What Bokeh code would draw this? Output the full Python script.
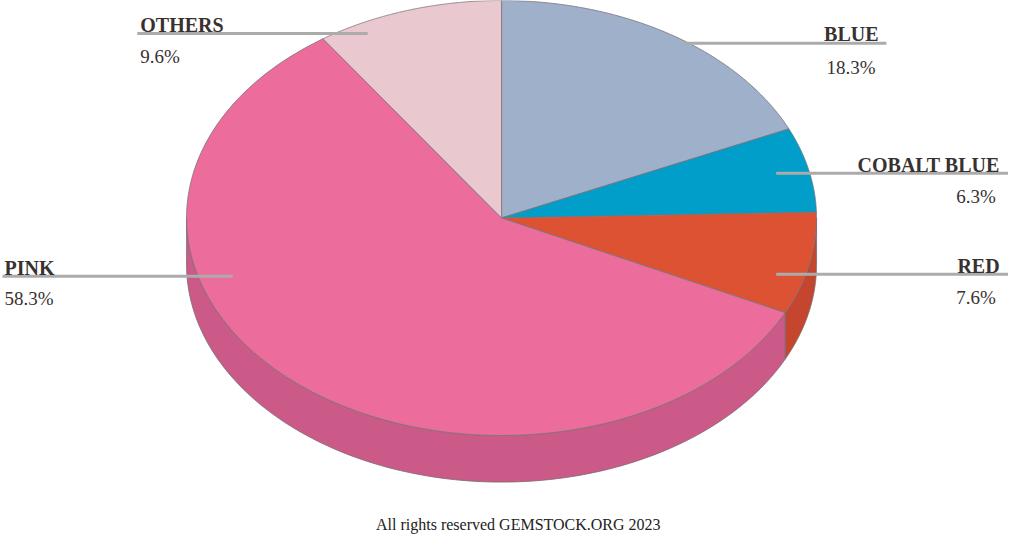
import numpy as np
from bokeh.plotting import figure
from bokeh.models import Range1d
from bokeh.core.properties import value
from bokeh.embed import file_html
from bokeh.resources import INLINE

# ---------------- data ----------------
categories = ["BLUE", "COBALT BLUE", "RED", "PINK", "OTHERS"]
shares = [18.3, 6.3, 7.6, 58.3, 9.6]
top_colors = ["#9FB0CA", "#009EC8", "#DE5234", "#EC6C9C", "#E9C8D0"]
side_colors = ["#8797B0", "#0088AE", "#C4462E", "#CC5A88", "#CDAAB4"]
footer_text = "All rights reserved GEMSTOCK.ORG 2023"

# ---------------- layout (reference pixel space) ----------------
CX, CY, RX, RY, DEPTH = 509, 224, 320, 224, 48
label_layout = {
    "BLUE":        dict(align="right", tx=892, ty=35,  px=889,  py=69,  line=(695, 900, 44)),
    "COBALT BLUE": dict(align="right", tx=1015, ty=169, px=1011, py=202, line=(788, 1024, 178)),
    "RED":         dict(align="right", tx=1015, ty=273, px=1011, py=306, line=(788, 1024, 282)),
    "PINK":        dict(align="left",  tx=4,   ty=275, px=4,    py=307, line=(2, 236, 284)),
    "OTHERS":      dict(align="left",  tx=142, ty=25,  px=142,  py=58,  line=(139, 373, 34)),
}
FONT = "Liberation Serif"
TEXT_COLOR = "#38312f"

p = figure(width=1008, height=535, output_backend="svg", toolbar_location=None,
           x_range=Range1d(0, 1024), y_range=Range1d(551, 0), min_border=0)
p.axis.visible = False
p.grid.visible = False
p.outline_line_color = None
p.background_fill_color = "white"
p.border_fill_color = "white"


def ell(t_deg, dy=0.0):
    t = np.radians(t_deg)
    return CX + RX * np.sin(t), CY - RY * np.cos(t) + dy


total = float(sum(shares))
bounds = np.concatenate([[0.0], np.cumsum(shares) / total * 360.0])

# side walls (front half only: 90..270 deg clockwise from top)
sx, sy, sc = [], [], []
for i in range(len(shares)):
    lo, hi = max(bounds[i], 90.0), min(bounds[i + 1], 270.0)
    if hi <= lo:
        continue
    ts = np.linspace(lo, hi, 120)
    x1, y1 = ell(ts)
    x2, y2 = ell(ts[::-1], DEPTH)
    sx.append(list(np.concatenate([x1, x2])))
    sy.append(list(np.concatenate([y1, y2])))
    sc.append(side_colors[i])
p.patches(sx, sy, fill_color=sc, line_color="#7a6a70", line_width=0.8)

# top faces
tx_, ty_ = [], []
for i in range(len(shares)):
    ts = np.linspace(bounds[i], bounds[i + 1], 200)
    x1, y1 = ell(ts)
    tx_.append([CX] + list(x1))
    ty_.append([CY] + list(y1))
p.patches(tx_, ty_, fill_color=top_colors, line_color="#7a7478", line_width=0.8)

# leader lines and labels
for name, share in zip(categories, shares):
    L = label_layout[name]
    x0, x1, yl = L["line"]
    p.segment(x0=[x0], y0=[yl], x1=[x1], y1=[yl], line_color="#ababab", line_width=3)
    p.text(x=[L["tx"]], y=[L["ty"]], text=[name], text_font=value(FONT),
           text_font_size="20px", text_font_style="bold", text_align=L["align"],
           text_baseline="alphabetic", text_color=TEXT_COLOR)
    p.text(x=[L["px"]], y=[L["py"]], text=[f"{share:.1f}%"], text_font=value(FONT),
           text_font_size="19px", text_align=L["align"],
           text_baseline="alphabetic", text_color=TEXT_COLOR)

p.text(x=[526], y=[540], text=[footer_text], text_font=value(FONT),
       text_font_size="16px", text_align="center", text_baseline="alphabetic",
       text_color="#222222")

open("out.html", "w").write(file_html(p, INLINE))
